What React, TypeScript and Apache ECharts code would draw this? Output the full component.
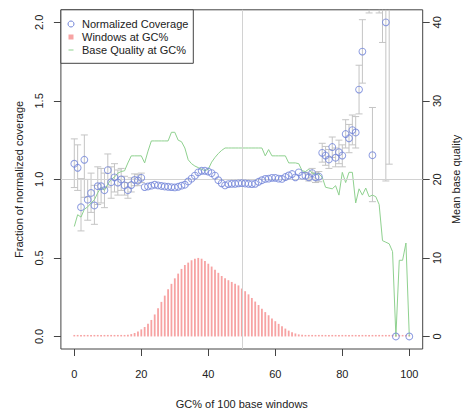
import React, { useEffect, useRef } from "react";
import * as echarts from "echarts";

// GC% positions for the windows and quality series
const gcAll: number[] = Array.from({ length: 101 }, (_, i) => i);

// Windows at GC% (scaled to left axis)
const windowsFrac: number[] = [
  0.006, 0.006, 0.006, 0.006, 0.006, 0.006, 0.006, 0.006, 0.006, 0.006,
  0.006, 0.006, 0.007, 0.007, 0.008, 0.009, 0.011, 0.015, 0.022, 0.032,
  0.045, 0.06, 0.08, 0.105, 0.14, 0.18, 0.22, 0.26, 0.3, 0.335,
  0.37, 0.4, 0.43, 0.455, 0.47, 0.485, 0.495, 0.5, 0.495, 0.48,
  0.463, 0.445, 0.425, 0.405, 0.385, 0.37, 0.358, 0.347, 0.336, 0.325,
  0.305, 0.288, 0.268, 0.245, 0.222, 0.2, 0.176, 0.155, 0.135, 0.115,
  0.097, 0.08, 0.065, 0.05, 0.037, 0.027, 0.019, 0.013, 0.01, 0.008,
  0.007, 0.006, 0.006, 0.006, 0.006, 0.006, 0.006, 0.006, 0.006, 0.006,
  0.006, 0.006, 0.006, 0.006, 0.006, 0.006, 0.006, 0.006, 0.006, 0.006,
  0.006, 0.006, 0.006, 0.006, 0.006, 0.006, 0.005, 0.005, 0.005, 0.005,
  0.005,
];

// Mean base quality at GC% (right axis)
const baseQuality: number[] = [
  14.0, 15.5, 15.2, 16.2, 16.5, 17.0, 17.4, 18.3, 19.0, 18.6,
  19.4, 20.0, 20.3, 20.8, 21.0, 21.1, 22.1, 23.0, 23.0, 23.0,
  23.0, 22.1, 23.6, 24.9, 24.9, 24.9, 24.9, 24.9, 24.9, 26.0,
  26.0, 25.0, 24.8, 24.0, 22.5, 22.0, 21.7, 21.5, 21.3, 21.1,
  21.3, 22.2, 22.8, 23.3, 23.7, 24.0, 24.0, 24.0, 24.0, 24.0,
  24.0, 24.0, 24.0, 24.0, 24.0, 24.0, 24.0, 23.0, 23.8, 23.0,
  23.0, 23.0, 23.0, 23.0, 22.1, 22.1, 22.1, 22.0, 21.1, 21.0,
  21.3, 20.8, 20.7, 20.7, 20.3, 19.0, 18.9, 18.8, 19.2, 18.0,
  20.9, 19.6, 20.9, 20.9, 17.0, 18.8, 18.0, 18.9, 17.8, 18.0,
  17.8, 16.8, 12.2, 12.0, 11.8, 10.8, 0, 9.7, 9.7, 11.9,
  0,
];

// Normalized coverage points
const covGc: number[] = [
  0, 1, 2, 3, 4, 5, 6, 7, 8, 9,
  10, 11, 12, 13, 14, 15, 16, 17, 18, 19,
  20, 21, 22, 23, 24, 25, 26, 27, 28, 29,
  30, 31, 32, 33, 34, 35, 36, 37, 38, 39,
  40, 41, 42, 43, 44, 45, 46, 47, 48, 49,
  50, 51, 52, 53, 54, 55, 56, 57, 58, 59,
  60, 61, 62, 63, 64, 65, 66, 67, 68, 69,
  70, 71, 72, 73, 74, 75, 76, 77, 78, 79,
  80, 81, 82, 83, 84, 85, 86, 89, 93, 96,
  100,
];
const coverage: number[] = [
  1.1, 1.074, 0.823, 1.125, 0.871, 0.914, 0.834, 0.957, 0.957, 0.931,
  1.059, 0.982, 1.013, 0.98, 1.0, 0.962, 0.931, 0.964, 0.997, 0.993,
  1.01, 0.951, 0.955, 0.96, 0.966, 0.962, 0.958, 0.955, 0.953, 0.951,
  0.949, 0.953, 0.96, 0.966, 0.987, 1.005, 1.024, 1.045, 1.055, 1.055,
  1.05, 1.04, 1.024, 0.995, 0.975, 0.962, 0.97, 0.972, 0.972, 0.975,
  0.976, 0.974, 0.972, 0.97, 0.972, 0.985, 0.995, 1.003, 1.005, 1.01,
  1.01, 1.005, 1.003, 1.015, 1.025, 1.034, 1.013, 1.045, 1.024, 1.024,
  1.013, 1.04, 1.013, 1.018, 1.169, 1.152, 1.127, 1.206, 1.138, 1.173,
  1.152, 1.289, 1.262, 1.314, 1.299, 1.572, 1.814, 1.154, 2.0, 0,
  0,
];

// Error bars on normalized coverage
const errGc: number[] = [
  0, 1, 2, 3, 4, 5, 6, 7, 8, 9, 10, 11, 12, 13, 14, 15, 16, 17, 18, 19, 20,
  69, 70, 71, 72, 73, 74, 75, 76, 77, 78, 79, 80, 81, 82, 83, 84, 85, 86,
  88, 89, 91, 92, 93, 94,
];
const errLow: number[] = [
  0.948, 0.93, 0.672, 0.886, 0.74, 0.79, 0.714, 0.84, 0.85, 0.82, 0.951, 0.88, 0.92, 0.9, 0.93, 0.9, 0.88, 0.92, 0.96, 0.96, 0.98,
  1.0, 0.99, 1.01, 0.98, 0.985, 1.11, 1.09, 1.07, 1.14, 1.08, 1.1, 1.08, 1.2, 1.17, 1.22, 1.2, 1.417, 1.613,
  2.06, 0.858, 2.06, 1.872, 0.99, 1.097,
];
const errHigh: number[] = [
  1.258, 1.22, 1.005, 1.283, 1.0, 1.04, 0.962, 1.08, 1.07, 1.04, 1.162, 1.08, 1.1, 1.06, 1.07, 1.02, 0.98, 1.01, 1.035, 1.03, 1.04,
  1.045, 1.035, 1.07, 1.045, 1.05, 1.23, 1.21, 1.19, 1.27, 1.2, 1.25, 1.22, 1.38, 1.35, 1.41, 1.4, 1.727, 2.017,
  3.0, 1.458, 3.0, 3.0, 3.0, 3.0,
];

const xTicks = [0, 20, 40, 60, 80, 100];
const leftTicks = [0, 0.5, 1, 1.5, 2];
const rightTicks = [0, 10, 20, 30, 40];

const FONT = "Liberation Sans, Arial, Helvetica, sans-serif";
const BLUE = "#7083d8";
const PINK = "#f7a3a3";
const GREEN = "#8fd18f";
const GREYBAR = "#c4c4c4";
const AXIS = "#444";
const TEXT = "#222";

export default function App() {
  const ref = useRef<HTMLDivElement>(null);
  useEffect(() => {
    if (!ref.current) return;
    const chart = echarts.init(ref.current, undefined, { renderer: "svg" });
    const gl = 60.9, gt = 9.8, gr = 422.7, gb = 358.2;
    const option: any = {
      animation: false,
      textStyle: { fontFamily: FONT },
      grid: {
        left: gl,
        top: gt,
        right: 470 - gr,
        bottom: 414 - gb,
        show: true,
        borderColor: AXIS,
        borderWidth: 1,
        backgroundColor: "transparent",
      },
      xAxis: {
        type: "value",
        min: -4,
        max: 104,
        axisLine: { show: false, onZero: false },
        axisTick: { show: true, customValues: xTicks, length: 7, lineStyle: { color: AXIS } },
        axisLabel: { customValues: xTicks, margin: 19, fontSize: 11, color: TEXT, fontFamily: FONT },
        splitLine: { show: false },
        name: "GC% of 100 base windows",
        nameLocation: "middle",
        nameGap: 49,
        nameTextStyle: { fontSize: 11, color: TEXT, fontFamily: FONT },
      },
      yAxis: [
        {
          type: "value",
          min: -0.08,
          max: 2.08,
          position: "left",
          axisLine: { show: false, onZero: false },
          axisTick: { show: true, customValues: leftTicks, length: 7, lineStyle: { color: AXIS } },
          axisLabel: {
            customValues: leftTicks,
            rotate: 90,
            margin: 16,
            fontSize: 11,
            color: TEXT,
            fontFamily: FONT,
            formatter: (v: number) => v.toFixed(1),
          },
          splitLine: { show: false },
          name: "Fraction of normalized coverage",
          nameLocation: "middle",
          nameGap: 36,
          nameTextStyle: { fontSize: 11, color: TEXT, fontFamily: FONT },
        },
        {
          type: "value",
          min: -1.6,
          max: 41.6,
          position: "right",
          axisLine: { show: false, onZero: false },
          axisTick: { show: true, customValues: rightTicks, length: 7, lineStyle: { color: AXIS } },
          axisLabel: {
            customValues: rightTicks,
            rotate: 90,
            margin: 9,
            fontSize: 11,
            color: TEXT,
            fontFamily: FONT,
          },
          splitLine: { show: false },
          name: "Mean base quality",
          nameLocation: "middle",
          nameGap: 22,
          nameTextStyle: { fontSize: 11, color: TEXT, fontFamily: FONT },
        },
      ],
      series: [
        {
          type: "bar",
          name: "Windows at GC%",
          yAxisIndex: 0,
          barWidth: 1.8,
          barMinHeight: 1.5,
          itemStyle: { color: PINK },
          data: gcAll.map((g, i) => [g, windowsFrac[i]]),
          z: 1,
          markLine: {
            silent: true,
            symbol: "none",
            label: { show: false },
            lineStyle: { color: "#d2d2d2", type: "solid", width: 1 },
            data: [{ xAxis: 50 }, { yAxis: 1 }],
          },
        },
        {
          type: "custom",
          name: "err",
          yAxisIndex: 0,
          clip: true,
          z: 3,
          data: errGc.map((g, i) => [g, errLow[i], errHigh[i]]),
          encode: { x: 0, y: [1, 2] },
          renderItem: (params: any, api: any) => {
            const x = api.value(0);
            const lo = api.coord([x, api.value(1)]);
            const hi = api.coord([x, api.value(2)]);
            const cw = 3.5;
            const style = { stroke: GREYBAR, lineWidth: 1, fill: "none" };
            return {
              type: "group",
              children: [
                { type: "line", shape: { x1: lo[0], y1: lo[1], x2: hi[0], y2: hi[1] }, style },
                { type: "line", shape: { x1: lo[0] - cw, y1: lo[1], x2: lo[0] + cw, y2: lo[1] }, style },
                { type: "line", shape: { x1: hi[0] - cw, y1: hi[1], x2: hi[0] + cw, y2: hi[1] }, style },
              ],
            };
          },
        },
        {
          type: "line",
          name: "Base Quality at GC%",
          yAxisIndex: 1,
          showSymbol: false,
          symbol: "none",
          lineStyle: { color: GREEN, width: 1 },
          data: gcAll.map((g, i) => [g, baseQuality[i]]),
          z: 4,
        },
        {
          type: "scatter",
          name: "Normalized Coverage",
          yAxisIndex: 0,
          symbol: "circle",
          symbolSize: 6.8,
          itemStyle: { color: "rgba(0,0,0,0)", borderColor: BLUE, borderWidth: 1 },
          data: covGc.map((g, i) => [g, coverage[i]]),
          z: 5,
        },
      ],
      graphic: [
        {
          type: "rect",
          silent: true,
          shape: { x: gl, y: gt, width: 193.3 - gl, height: 63.3 - gt },
          style: { fill: "#fff", stroke: AXIS, lineWidth: 1 },
          z: 10,
        },
        {
          type: "circle",
          silent: true,
          shape: { cx: 71, cy: 24, r: 3 },
          style: { fill: "none", stroke: BLUE, lineWidth: 1 },
          z: 11,
        },
        {
          type: "rect",
          silent: true,
          shape: { x: 68.5, y: 34.5, width: 5, height: 5 },
          style: { fill: PINK },
          z: 11,
        },
        {
          type: "line",
          silent: true,
          shape: { x1: 68.5, y1: 50, x2: 73.5, y2: 50 },
          style: { stroke: GREEN, lineWidth: 1 },
          z: 11,
        },
        {
          type: "text",
          silent: true,
          x: 82,
          y: 24,
          style: { text: "Normalized Coverage", fontSize: 11, fill: TEXT, fontFamily: FONT, verticalAlign: "middle" },
          z: 11,
        },
        {
          type: "text",
          silent: true,
          x: 82,
          y: 37,
          style: { text: "Windows at GC%", fontSize: 11, fill: TEXT, fontFamily: FONT, verticalAlign: "middle" },
          z: 11,
        },
        {
          type: "text",
          silent: true,
          x: 82,
          y: 50,
          style: { text: "Base Quality at GC%", fontSize: 11, fill: TEXT, fontFamily: FONT, verticalAlign: "middle" },
          z: 11,
        },
      ],
    };
    chart.setOption(option);
    return () => chart.dispose();
  }, []);
  return (
    <div
      ref={ref}
      style={{ position: "absolute", left: 0, top: 0, width: 470, height: 414, background: "#fff" }}
    />
  );
}
